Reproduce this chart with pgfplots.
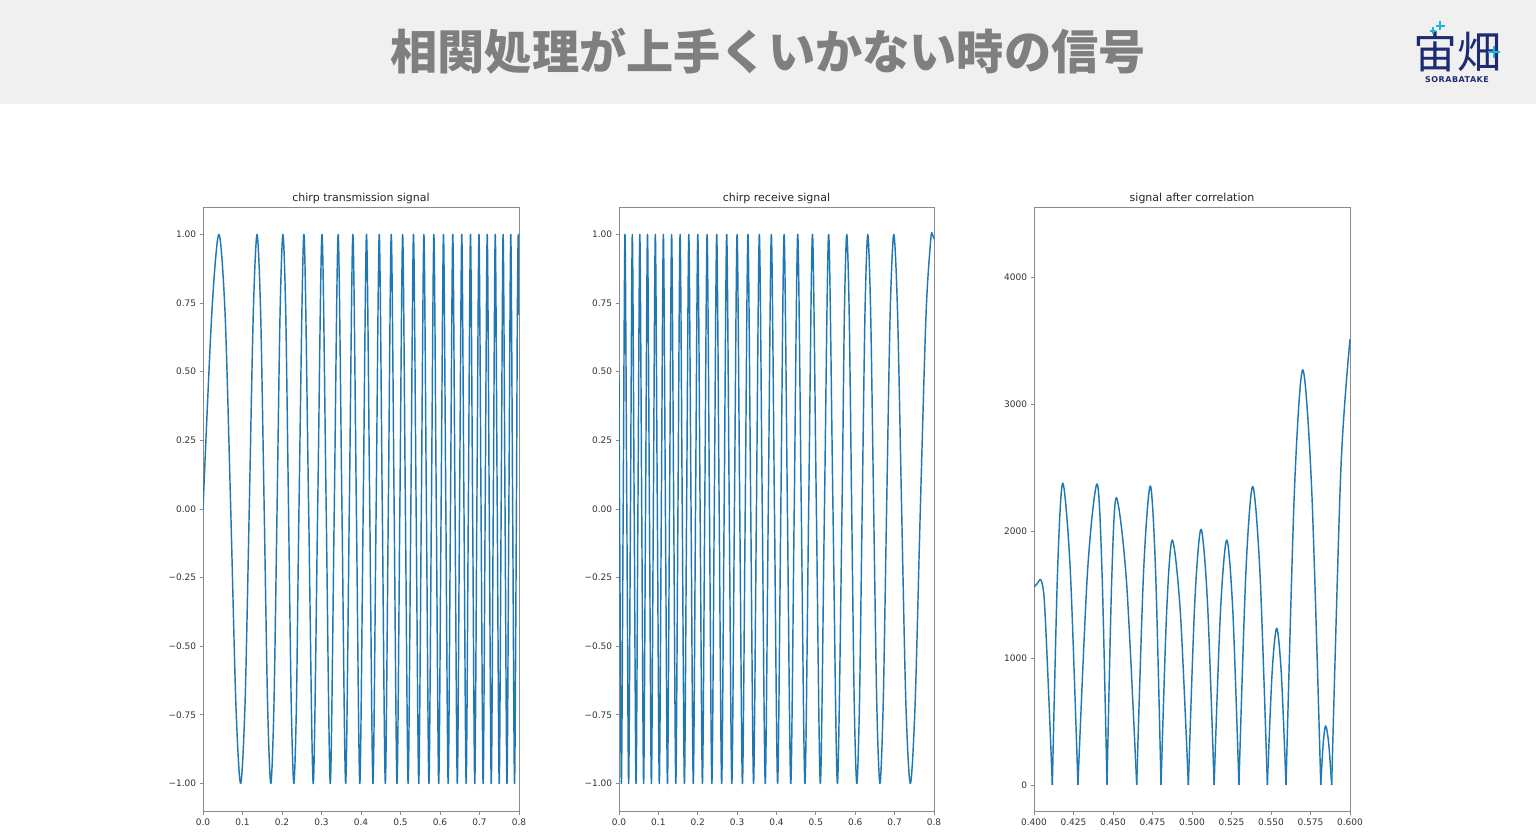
\documentclass[border=0pt]{standalone}
\usepackage{fontspec}
\setmainfont{DejaVu Sans}
\newfontfamily\jp{Noto Sans CJK JP}
\usepackage{pgfplots}
\pgfplotsset{compat=1.18}
\definecolor{mplblue}{HTML}{1F77B4}
\definecolor{spine}{HTML}{8A8A8A}
\definecolor{hdr}{HTML}{F0F0F0}
\definecolor{ttl}{HTML}{7F7F7F}
\definecolor{navy}{HTML}{1E2B72}
\definecolor{cyanlogo}{HTML}{1BB5D6}
\pgfplotsset{
  mpl/.style={
    scale only axis, width=158pt, height=302pt, anchor=south west,
    axis line style={spine, line width=0.45pt},
    tick style={spine, line width=0.45pt},
    tick align=outside, major tick length=1.75pt,
    xtick pos=left, ytick pos=left,
    ticklabel style={font=\fontsize{4.5pt}{5pt}\selectfont, text=black!80},
    xticklabel style={anchor=north, inner sep=0pt, yshift=-1.75pt},
    yticklabel style={anchor=east, inner sep=0pt, xshift=-1.5pt},
    every axis title shift=0pt,
    title style={font=\fontsize{5.5pt}{6pt}\selectfont, text=black!85, at={(0.5,1)}, anchor=base, yshift=2.6pt, inner sep=0pt},
  },
  sig/.style={mplblue, line width=0.72pt, line join=round, smooth, no marks},
  chirpaxis/.style={mpl, xmin=0, xmax=0.8, ymin=-1.1, ymax=1.1,
    xtick={0,0.1,0.2,0.3,0.4,0.5,0.6,0.7,0.8},
    xticklabels={0.0,0.1,0.2,0.3,0.4,0.5,0.6,0.7,0.8},
    ytick={-1,-0.75,-0.5,-0.25,0,0.25,0.5,0.75,1},
    yticklabels={−1.00,−0.75,−0.50,−0.25,0.00,0.25,0.50,0.75,1.00}},
}
\begin{document}
\begin{tikzpicture}[x=0.5pt,y=0.5pt]
\useasboundingbox (0,0) rectangle (1536,835);
\fill[white] (0,0) rectangle (1536,835);
\fill[hdr] (0,731) rectangle (1536,835);
\node[inner sep=0pt, text=ttl, font=\jp\bfseries\fontsize{23.6pt}{23.6pt}\selectfont] at (768,784) {相関処理が上手くいかない時の信号};
\node[inner sep=0pt, text=navy, font=\jp\fontsize{22pt}{22pt}\selectfont] at (1457,783) {宙畑};
\draw[cyanlogo, line width=0.9pt] (1429.5,804.3) -- (1436,804.3) (1432.7,801) -- (1432.7,807.6);
\draw[cyanlogo, line width=1pt] (1435.5,809) -- (1444.5,809) (1440,804.5) -- (1440,813.5);
\draw[cyanlogo, line width=1.1pt] (1488,783) -- (1500,783) (1494,777) -- (1494,789);
\node[inner sep=0pt, text=navy, font=\bfseries\fontsize{4pt}{4pt}\selectfont\addfontfeature{LetterSpace=6}] at (1457,755) {SORABATAKE};

\begin{axis}[chirpaxis, at={(101.5pt,12pt)}, title={chirp transmission signal}]
\addplot[sig] coordinates {
(0,0) (0.02206,0.7071) (0.04022,1) (0.05602,0.7071) (0.07020,0) (0.08317,-0.7071) (0.09520,-1) (0.10647,-0.7071)
(0.11710,0) (0.12719,0.7071) (0.13682,1) (0.14605,0.7071) (0.15491,0) (0.16346,-0.7071) (0.17172,-1) (0.17972,-0.7071)
(0.18748,0) (0.19503,0.7071) (0.20238,1) (0.20954,0.7071) (0.21653,0) (0.22336,-0.7071) (0.23005,-1) (0.23659,-0.7071)
(0.24300,0) (0.25545,1) (0.26747,0) (0.27909,-1) (0.29034,0) (0.30126,1) (0.31189,0) (0.32223,-1)
(0.33232,0) (0.34216,1) (0.35179,0) (0.36120,-1) (0.37042,0) (0.37946,1) (0.38832,0) (0.39702,-1)
(0.40556,0) (0.41396,1) (0.42221,0) (0.43034,-1) (0.43833,0) (0.44621,1) (0.45397,0) (0.46162,-1)
(0.46917,0) (0.47661,1) (0.48396,0) (0.49121,-1) (0.49837,0) (0.50544,1) (0.51243,0) (0.51934,-1)
(0.52616,0) (0.53292,1) (0.53960,0) (0.54621,-1) (0.55275,0) (0.55922,1) (0.56563,0) (0.57198,-1)
(0.57827,0) (0.58449,1) (0.59066,0) (0.59677,-1) (0.60283,0) (0.60884,1) (0.61479,0) (0.62069,-1)
(0.62655,0) (0.63236,1) (0.63812,0) (0.64383,-1) (0.64950,0) (0.65513,1) (0.66071,0) (0.66625,-1)
(0.67175,0) (0.67721,1) (0.68264,0) (0.68802,-1) (0.69336,0) (0.69867,1) (0.70395,0) (0.70919,-1)
(0.71439,0) (0.71956,1) (0.72470,0) (0.72980,-1) (0.73488,0) (0.73992,1) (0.74493,0) (0.74991,-1)
(0.75486,0) (0.75978,1) (0.76468,0) (0.76954,-1) (0.77438,0) (0.77919,1) (0.78398,0) (0.78874,-1)
(0.79347,0) (0.79583,0.7071) (0.79818,1) (0.80052,0.7071)
};
\end{axis}

\begin{axis}[chirpaxis, at={(309.5pt,12pt)}, width=157.5pt, title={chirp receive signal}]
\addplot[sig] coordinates {
(0,0.488) (0.001474,0) (0.006026,-1) (0.010602,0) (0.015200,1) (0.019823,0) (0.024469,-1) (0.029139,0)
(0.033835,1) (0.038555,0) (0.043301,-1) (0.048073,0) (0.052870,1) (0.057695,0) (0.062548,-1) (0.067428,0)
(0.072336,1) (0.077273,0) (0.082239,-1) (0.087234,0) (0.092260,1) (0.097318,0) (0.102406,-1) (0.107526,0)
(0.112679,1) (0.117865,0) (0.123085,-1) (0.128340,0) (0.133630,1) (0.138955,0) (0.144318,-1) (0.149717,0)
(0.155156,1) (0.160634,0) (0.166151,-1) (0.171710,0) (0.177310,1) (0.182953,0) (0.188640,-1) (0.194371,0)
(0.200149,1) (0.205973,0) (0.211845,-1) (0.217767,0) (0.223739,1) (0.229763,0) (0.235842,-1) (0.241974,0)
(0.248163,1) (0.254408,0) (0.260714,-1) (0.267082,0) (0.273512,1) (0.280007,0) (0.286569,-1) (0.293200,0)
(0.299904,1) (0.306679,0) (0.313532,-1) (0.320604,0) (0.327475,1) (0.334572,0) (0.341757,-1) (0.349033,0)
(0.356403,1) (0.363871,0) (0.371442,-1) (0.379119,0) (0.386908,1) (0.394813,0) (0.402840,-1) (0.410994,0)
(0.419281,1) (0.427710,0) (0.436286,-1) (0.445017,0) (0.453915,1) (0.462985,0) (0.472242,-1) (0.481695,0)
(0.491358,1) (0.501247,0) (0.511376,-1) (0.521766,0) (0.532436,1) (0.543412,0) (0.554720,-1) (0.566392,0)
(0.572378,0.7071) (0.578468,1) (0.584671,0.7071) (0.590991,0) (0.597438,-0.7071) (0.604016,-1) (0.610737,-0.7071) (0.617608,0)
(0.624641,0.7071) (0.631848,1) (0.639242,0.7071) (0.646838,0) (0.654655,-0.7071) (0.662713,-1) (0.671034,-0.7071) (0.679648,0)
(0.688587,0.7071) (0.697891,1) (0.707610,0.7071) (0.717803,0) (0.728547,-0.7071) (0.739944,-1) (0.752129,-0.7071) (0.765293,0)
(0.779716,0.7071) (0.79184,0.983) (0.795853,1) (0.8,0.983)
};
\end{axis}

\begin{axis}[mpl, at={(517pt,12pt)}, title={signal after correlation},
  xmin=0.4, xmax=0.6, ymin=-205, ymax=4551,
  xtick={0.4,0.425,0.45,0.475,0.5,0.525,0.55,0.575,0.6},
  xticklabels={0.400,0.425,0.450,0.475,0.500,0.525,0.550,0.575,0.600},
  ytick={0,1000,2000,3000,4000},
  yticklabels={0,1000,2000,3000,4000}]
\addplot[sig] coordinates {(0.400,1557) (0.4022,1588) (0.4044,1614) (0.4065,1457) (0.4090,800) (0.4116,0)};
\addplot[sig] coordinates {(0.4116,0) (0.4149,1680) (0.4182,2376) (0.4230,1680) (0.4278,0)};
\addplot[sig] coordinates {(0.4278,0) (0.43385,1676) (0.4399,2370) (0.44305,1676) (0.4462,0)};
\addplot[sig] coordinates {(0.4462,0) (0.44915,1599) (0.4521,2262) (0.45855,1599) (0.4650,0)};
\addplot[sig] coordinates {(0.4650,0) (0.4693,1664) (0.4736,2354) (0.4770,1664) (0.4804,0)};
\addplot[sig] coordinates {(0.4804,0) (0.48395,1364) (0.4875,1929) (0.4926,1364) (0.4977,0)};
\addplot[sig] coordinates {(0.4977,0) (0.5017,1423) (0.5057,2013) (0.50985,1423) (0.5140,0)};
\addplot[sig] coordinates {(0.5140,0) (0.5180,1364) (0.5220,1929) (0.52585,1364) (0.5297,0)};
\addplot[sig] coordinates {(0.5297,0) (0.53405,1661) (0.5384,2349) (0.54305,1661) (0.5477,0)};
\addplot[sig] coordinates {(0.5477,0) (0.55065,873) (0.5536,1234) (0.55655,873) (0.5595,0)};
\addplot[sig] coordinates {(0.5595,0) (0.5648,2311) (0.5701,3268) (0.5758,2311) (0.5815,0)};
\addplot[sig] coordinates {(0.5815,0) (0.58305,329) (0.5846,465) (0.5865,329) (0.5884,0)};
\addplot[sig] coordinates {(0.5884,0) (0.5942,2480) (0.6000,3510)};
\end{axis}
\end{tikzpicture}
\end{document}
